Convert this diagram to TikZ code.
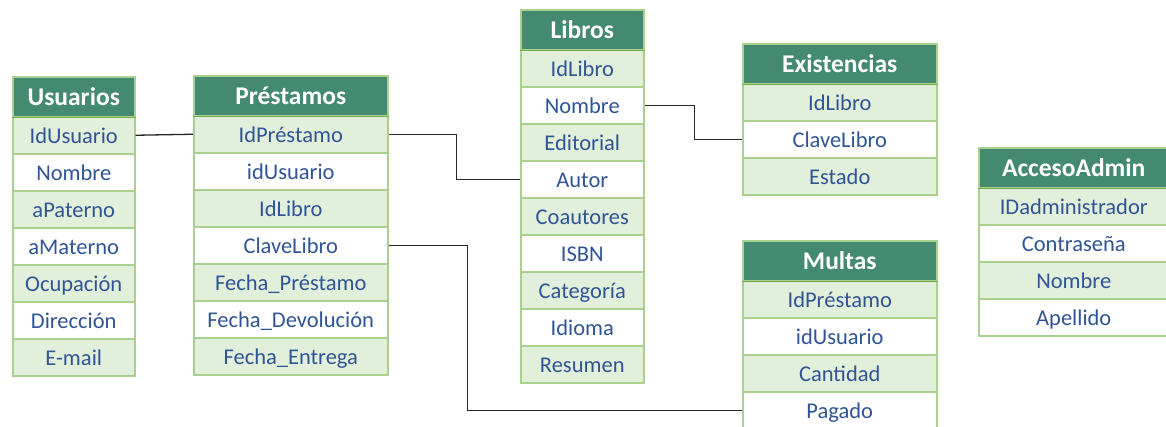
\documentclass[tikz,border=0pt]{standalone}
\usepackage{fontspec}
\setmainfont{Carlito}

\definecolor{hdr}{HTML}{448A70}
\definecolor{cellfill}{HTML}{E2EFDA}
\definecolor{cellline}{HTML}{A9D08E}
\definecolor{hdrline}{HTML}{70AD47}
\definecolor{fieldtext}{HTML}{2F5597}

\tikzset{
  tblhead/.style={draw=cellline, line width=1.5pt, fill=hdr, text=white,
    font=\fontsize{25.5}{28}\selectfont\bfseries, minimum height=40pt,
    text height=19.6pt, text depth=3pt,
    inner sep=0pt, anchor=north west},
  tblrow/.style={draw=cellline, line width=1.5pt, text=fieldtext,
    font=\fontsize{22.5}{25}\selectfont, minimum height=37pt,
    text height=19pt, text depth=2pt,
    inner sep=0pt, anchor=north west},
  link/.style={draw=black!85, line width=1.3pt}
}

% table: name, left x, top y, width, title, list of fields
\newcommand\dbtable[6]{%
  \node[tblhead, minimum width=#4pt] (#1-0) at (#2,#3) {#5};
  \foreach \f [count=\i] in {#6} {
    \pgfmathsetmacro\rowy{#3+40+37*(\i-1)}
    \ifodd\i \def\rowcol{cellfill}\else\def\rowcol{white}\fi
    \node[tblrow, fill=\rowcol, minimum width=#4pt] (#1-\i) at (#2,\rowy) {\f};
  }
  \draw[hdrline, line width=1.5pt] (#1-0.south west) -- (#1-0.south east);
}

\begin{document}
\begin{tikzpicture}[x=1pt, y=-1pt]
  \useasboundingbox (0,0) rectangle (1166,426);
  \fill[white] (0,0) rectangle (1166,426);
  \clip (0,0) rectangle (1166,426);

  \dbtable{U}{12}{76}{122}{Usuarios}
    {IdUsuario, Nombre, aPaterno, aMaterno, Ocupación, Dirección, E-mail}
  \dbtable{P}{193}{75}{194}{Préstamos}
    {IdPréstamo, idUsuario, IdLibro, ClaveLibro, Fecha\_Préstamo,
     Fecha\_Devolución, Fecha\_Entrega}
  \dbtable{L}{520}{9}{123}{Libros}
    {IdLibro, Nombre, Editorial, Autor, Coautores, ISBN, Categoría,
     Idioma, Resumen}
  \dbtable{E}{742}{43}{194}{Existencias}
    {IdLibro, ClaveLibro, Estado}
  \dbtable{M}{742}{240}{194}{Multas}
    {IdPréstamo, idUsuario, Cantidad, Pagado}
  \dbtable{A}{978}{147}{190}{AccesoAdmin}
    {IDadministrador, Contraseña, Nombre, Apellido}

  % relationships
  \draw[link] (U-1.east) -- (P-1.west);
  \draw[link] (P-1.east) -- ++(68,0) |- (L-4.west);
  \draw[link] (L-2.east) -- ++(50,0) |- (E-2.west);
  \draw[link] (P-4.east) -- ++(79,0) |- (M-4.west);
\end{tikzpicture}
\end{document}
